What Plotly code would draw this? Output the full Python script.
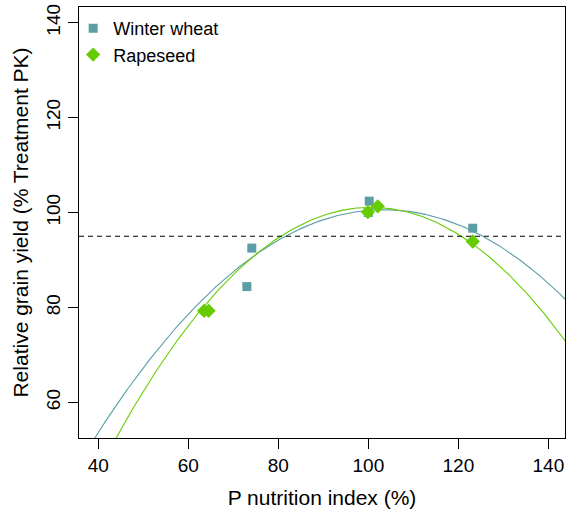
import numpy as np
import plotly.graph_objects as go

# Data
wheat_x = [73.0, 74.1, 100.0, 100.2, 123.2]
wheat_y = [84.4, 92.5, 100.0, 102.4, 96.7]
rape_x = [63.5, 64.5, 99.9, 102.1, 123.2]
rape_y = [79.3, 79.3, 100.1, 101.3, 93.9]

# Quadratic response curves (vertex form: peak, optimum x, curvature)
wheat_fit = [100.6, 103.5, 0.01163]
rape_fit = [101.1, 100.6, 0.01513]
threshold = 95

wheat_col = "#5B9EA6"
rape_col = "#66CC00"

xs = np.linspace(30, 150, 400)
def curve(p, x):
    return p[0] - p[2] * (x - p[1]) ** 2

fig = go.Figure()
fig.add_trace(go.Scatter(x=xs, y=curve(wheat_fit, xs), mode="lines",
                         line=dict(color=wheat_col, width=1.1), showlegend=False, hoverinfo="skip"))
fig.add_trace(go.Scatter(x=xs, y=curve(rape_fit, xs), mode="lines",
                         line=dict(color=rape_col, width=1.1), showlegend=False, hoverinfo="skip"))
fig.add_trace(go.Scatter(x=wheat_x, y=wheat_y, mode="markers", name="Winter wheat",
                         marker=dict(symbol="square", size=9, color=wheat_col)))
fig.add_trace(go.Scatter(x=rape_x, y=rape_y, mode="markers", name="Rapeseed",
                         marker=dict(symbol="diamond", size=11, color=rape_col)))

fig.add_shape(type="line", xref="paper", x0=0, x1=1, yref="y", y0=threshold, y1=threshold,
              line=dict(color="black", width=1.2, dash="5px,4px"))

font = "Liberation Sans, Arial, sans-serif"
fig.update_layout(
    width=567, height=513,
    margin=dict(l=79, r=2, t=7, b=75),
    paper_bgcolor="white", plot_bgcolor="white",
    font=dict(family=font, color="black"),
    legend=dict(x=-0.012, y=0.993, xanchor="left", yanchor="top",
                font=dict(size=18, family=font), bgcolor="rgba(0,0,0,0)",
                tracegroupgap=0, itemwidth=30),
    xaxis=dict(range=[35.7, 143.7], tickvals=[40, 60, 80, 100, 120, 140], automargin=False,
               showgrid=False, zeroline=False, showline=True, linecolor="black", linewidth=1.2,
               mirror=True, ticks="outside", ticklen=10, tickcolor="black", tickwidth=1.2,
               tickfont=dict(size=19), title=dict(text="P nutrition index (%)", font=dict(size=21), standoff=15)),
    yaxis=dict(range=[52.5, 143.3], tickvals=[60, 80, 100, 120, 140], automargin=False,
               showgrid=False, zeroline=False, showline=True, linecolor="black", linewidth=1.2,
               mirror=True, ticks="outside", ticklen=10, tickcolor="black", tickwidth=1.2,
               tickangle=-90, tickfont=dict(size=19),
               title=dict(text="Relative grain yield (% Treatment PK)", font=dict(size=21), standoff=8)),
)

fig.write_html("out.html", config={"displayModeBar": False},
               post_script="document.body.style.margin='0';document.body.style.overflow='hidden';")
